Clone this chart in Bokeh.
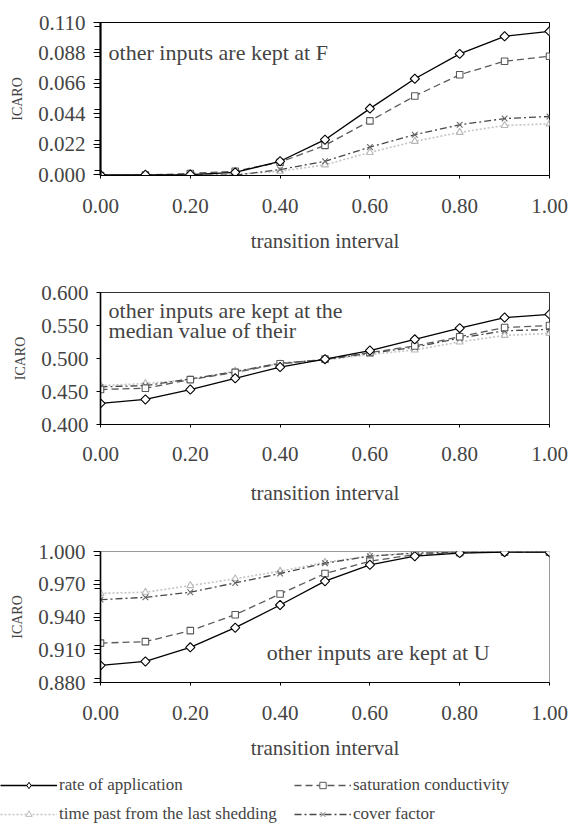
import math
from bokeh.plotting import figure
from bokeh.layouts import column
from bokeh.models import Range1d, FixedTicker, NumeralTickFormatter, Label, Legend, LegendItem
from bokeh.embed import file_html
from bokeh.resources import INLINE

# ---------------- data ----------------
x_vals = [0.0, 0.1, 0.2, 0.3, 0.4, 0.5, 0.6, 0.7, 0.8, 0.9, 1.0]
x_ticks = [0.0, 0.2, 0.4, 0.6, 0.8, 1.0]

series_names = ["rate of application", "saturation conductivity",
                "time past from the last shedding", "cover factor"]

# other inputs kept at F
f_rate = [-0.0003, -0.0002, 0.0000, 0.0015, 0.0096, 0.0252, 0.0477, 0.0693, 0.0873, 0.1000, 0.1036]
f_sat = [-0.0007, -0.0004, 0.0008, 0.0024, 0.0089, 0.0211, 0.0388, 0.0568, 0.0722, 0.0820, 0.0856]
f_time = [-0.0007, -0.0007, -0.0005, 0.0000, 0.0024, 0.0070, 0.0160, 0.0240, 0.0305, 0.0355, 0.0367]
f_cover = [-0.0007, -0.0006, -0.0004, -0.0005, 0.0036, 0.0096, 0.0199, 0.0288, 0.0360, 0.0405, 0.0420]
f_yticks = [0.000, 0.022, 0.044, 0.066, 0.088, 0.110]

# other inputs kept at the median value
m_rate = [0.432, 0.438, 0.453, 0.470, 0.487, 0.499, 0.512, 0.529, 0.546, 0.562, 0.567]
m_sat = [0.453, 0.455, 0.468, 0.479, 0.492, 0.499, 0.509, 0.519, 0.533, 0.547, 0.550]
m_time = [0.459, 0.462, 0.468, 0.481, 0.492, 0.498, 0.506, 0.513, 0.525, 0.535, 0.538]
m_cover = [0.457, 0.459, 0.469, 0.480, 0.493, 0.498, 0.508, 0.517, 0.531, 0.542, 0.544]
m_yticks = [0.400, 0.450, 0.500, 0.550, 0.600]

# other inputs kept at U
u_rate = [0.8956, 0.8993, 0.9122, 0.9302, 0.9510, 0.9728, 0.9878, 0.9957, 0.9985, 0.9994, 0.9994]
u_sat = [0.9161, 0.9174, 0.9275, 0.9421, 0.9611, 0.9798, 0.9911, 0.9972, 0.9990, 0.9994, 0.9994]
u_time = [0.9617, 0.9627, 0.9688, 0.9750, 0.9820, 0.9900, 0.9960, 0.9988, 0.9994, 0.9996, 0.9996]
u_cover = [0.9559, 0.9580, 0.9627, 0.9712, 0.9798, 0.9893, 0.9957, 0.9985, 0.9992, 0.9994, 0.9994]
u_yticks = [0.880, 0.910, 0.940, 0.970, 1.000]

# ---------------- styles ----------------
FONT = "Liberation Serif"
W = 568
styles = {
    "rate of application": dict(lc="#000000", dash="solid", lw=1.3, marker="square", angle=math.pi / 4,
                                size=6.5, mc="#000000", lmarker="diamond"),
    "saturation conductivity": dict(lc="#5a5a5a", dash="7 4", lw=1.3, marker="square", angle=0.0,
                                    size=6.5, mc="#5a5a5a", lmarker="square"),
    "time past from the last shedding": dict(lc="#c4c4c4", dash="2 2", lw=1.6, marker="triangle", angle=0.0,
                                             size=7, mc="#b8b8b8", lmarker="triangle"),
    "cover factor": dict(lc="#484848", dash="7 3 2 3", lw=1.3, marker="x", angle=0.0,
                         size=8, mc="#6a6a6a", lmarker="x"),
}
draw_order = ["time past from the last shedding", "cover factor", "saturation conductivity",
              "rate of application"]


def make_panel(height, top, frame_h, left, yr, yticks, data, outline, axis_w,
               minor_off, x_lab_standoff, x_title_standoff):
    p = figure(width=W, height=height, output_backend="svg", toolbar_location=None,
               x_range=Range1d(0, 1), y_range=Range1d(*yr),
               min_border_top=top, min_border_bottom=height - top - frame_h,
               min_border_left=left, min_border_right=19)
    p.grid.visible = False
    p.outline_line_color = outline
    p.outline_line_width = 1
    p.background_fill_color = "white"
    p.border_fill_color = "white"

    for name in draw_order:
        st = styles[name]
        ys = data[name]
        p.line(x_vals, ys, line_color=st["lc"], line_dash=st["dash"], line_width=st["lw"])
        p.scatter(x_vals, ys, marker=st["marker"], angle=st["angle"], size=st["size"],
                  line_color=st["mc"], fill_color="white", line_width=1.1)

    # x axis
    xa = p.xaxis[0]
    xa.ticker = FixedTicker(ticks=x_ticks)
    xa.formatter = NumeralTickFormatter(format="0.00")
    xa.axis_label = "transition interval"
    xa.axis_label_text_font = FONT
    xa.axis_label_text_font_size = "21px"
    xa.axis_label_text_font_style = "normal"
    xa.axis_label_standoff = x_title_standoff
    xa.major_label_text_font = FONT
    xa.major_label_text_font_size = "21px"
    xa.major_label_standoff = x_lab_standoff
    xa.major_tick_in = 0
    xa.major_tick_out = 3
    xa.minor_tick_out = 0
    xa.minor_tick_in = 0
    xa.axis_line_color = "black"
    xa.axis_line_width = 1.2

    # y axis
    ya = p.yaxis[0]
    if minor_off > 0:
        minors = []
        for t in yticks:
            minors += [t - minor_off, t + minor_off]
        ya.ticker = FixedTicker(ticks=yticks, minor_ticks=minors)
        ya.minor_tick_out = 6
        ya.major_tick_out = 7
    else:
        ya.ticker = FixedTicker(ticks=yticks)
        ya.minor_tick_out = 0
        ya.major_tick_out = 4
    ya.minor_tick_in = 0
    ya.major_tick_in = 0
    ya.formatter = NumeralTickFormatter(format="0.000")
    ya.major_label_text_font = FONT
    ya.major_label_text_font_size = "21px"
    ya.major_label_standoff = 8
    ya.axis_label = "ICARO"
    ya.axis_label_text_font = FONT
    ya.axis_label_text_font_size = "14px"
    ya.axis_label_text_font_style = "normal"
    ya.axis_label_standoff = 10
    ya.axis_line_color = "black"
    ya.axis_line_width = axis_w
    return p


p1 = make_panel(268, 22, 153, 97, (-0.0007, 0.110), f_yticks,
                {"rate of application": f_rate, "saturation conductivity": f_sat,
                 "time past from the last shedding": f_time, "cover factor": f_cover},
                "black", 2.2, 0.0028, 20, 13)
p1.add_layout(Label(x=0.018, y=0.088, text="other inputs are kept at F", text_font=FONT,
                    text_font_size="22px", text_baseline="middle", text_align="left"))

p2 = make_panel(262, 24, 132, 96, (0.400, 0.600), m_yticks,
                {"rate of application": m_rate, "saturation conductivity": m_sat,
                 "time past from the last shedding": m_time, "cover factor": m_cover},
                "#333333", 1.6, 0.0, 19, 17)
p2.add_layout(Label(x=0.018, y=0.5727, text="other inputs are kept at the", text_font=FONT,
                    text_font_size="22px", text_baseline="middle", text_align="left"))
p2.add_layout(Label(x=0.018, y=0.5424, text="median value of their", text_font=FONT,
                    text_font_size="22px", text_baseline="middle", text_align="left"))

p3 = make_panel(240, 21, 131, 100, (0.880, 1.000), u_yticks,
                {"rate of application": u_rate, "saturation conductivity": u_sat,
                 "time past from the last shedding": u_time, "cover factor": u_cover},
                "#9a9a9a", 1.6, 0.0036, 20, 13)
p3.add_layout(Label(x=0.37, y=0.9075, text="other inputs are kept at U", text_font=FONT,
                    text_font_size="22px", text_baseline="middle", text_align="left"))

# legend panel: the same series drawn outside the visible window, only the legend shows
p4 = figure(width=W, height=54, output_backend="svg", toolbar_location=None,
            x_range=Range1d(0, 1), y_range=Range1d(10, 11),
            x_axis_location=None, y_axis_location=None,
            min_border_top=0, min_border_bottom=0, min_border_left=0, min_border_right=0)
p4.grid.visible = False
p4.outline_line_color = None
legend_data = {"rate of application": u_rate, "saturation conductivity": u_sat,
               "time past from the last shedding": u_time, "cover factor": u_cover}
items = []
for name in series_names:
    st = styles[name]
    lr = p4.line(x_vals, legend_data[name], line_color=st["lc"], line_dash=st["dash"], line_width=st["lw"])
    sr = p4.scatter(x_vals, legend_data[name], marker=st["lmarker"], size=7,
                    line_color=st["mc"], fill_color="white", line_width=1.0)
    items.append(LegendItem(label=name, renderers=[lr, sr]))
leg = Legend(items=items, location="top_left", orientation="horizontal", ncols=2,
             glyph_width=57, glyph_height=16, label_standoff=2, spacing=0, padding=0, margin=0,
             label_text_font=FONT, label_text_font_size="17px", border_line_color=None,
             background_fill_alpha=0, label_height=29, label_width=235)
p4.add_layout(leg, "center")

# nest the chart panels so that the legend panel's frame is not aligned with theirs
layout = column(column(p1, p2, p3, spacing=0), p4, spacing=0)
open("out.html", "w").write(file_html(layout, INLINE))
